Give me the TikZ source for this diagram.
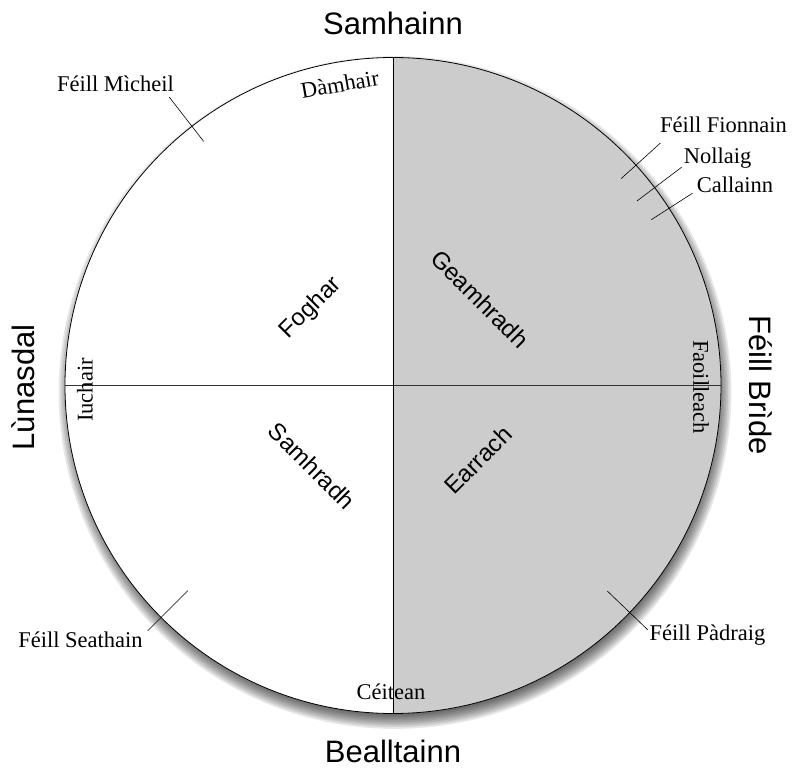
\documentclass[tikz,border=0pt]{standalone}
\usepackage{fontspec}
\setmainfont{Liberation Serif}
\setsansfont{Liberation Sans}
\usetikzlibrary{calc}
\definecolor{cDark}{RGB}{204,204,204}

\begin{document}
\begin{tikzpicture}[x=1pt, y=1pt,
            hd/.style={font=\sffamily\fontsize{31}{31}\selectfont, inner sep=0pt, anchor=base},
            ss/.style={font=\sffamily\fontsize{24}{24}\selectfont, inner sep=0pt},
            mo/.style={font=\fontsize{22.5}{22.5}\selectfont, inner sep=0pt},
            fe/.style={font=\fontsize{22.5}{22.5}\selectfont, inner sep=0pt, anchor=base},
            tk/.style={draw=black, line width=0.6pt},
            ax/.style={draw=black!80, line width=0.8pt}]
            \useasboundingbox (-393,-386.5) rectangle (411,385.5);
            % shadow
            \foreach \k in {0,...,12}
                \fill[black, opacity=0.09] (2,-7) circle ({316+\k*1.7});
            \fill[white] (0,0) circle (328);
            \fill[cDark] (0,328) arc (90:-90:328) -- cycle;
            \draw[ax] (-328,0) -- (328,0);
            \draw[ax, draw=black] (0,328) -- (0,-328);
            \draw[line width=0.8pt] (0,0) circle (328);
            % ticks
            \draw[tk] (127.8:309) -- (127.8:365);
            \draw[tk] (42.2:308)  -- (42.2:361);
            \draw[tk] (37.1:306)  -- (37.1:362);
            \draw[tk] (32.7:307)  -- (32.7:356);
            \draw[tk] (-43.8:297) -- (-43.8:353);
            \draw[tk] (-135:290)  -- (-135:347);
            % quarter days
            \node[hd]             (sam)  at (0,350.5)   {Samhainn};
            \node[hd]             (beal) at (0,-376.5)  {Bealltainn};
            \node[hd, rotate=90]  (lun)  at (-358,-2)   {Lùnasdal};
            \node[hd, rotate=-90] (bri)  at (356,0.5)   {Féill Brìde};
            % seasons
            \node[ss, rotate=45]  (fog)  at (-82,77.5)  {Foghar};
            \node[ss, rotate=-45] (gea)  at (87,86.5)   {Geamhradh};
            \node[ss, rotate=-45] (samr) at (-81,-80.5) {Samhradh};
            \node[ss, rotate=45]  (ear)  at (85,-74.5)  {Earrach};
            % months
            \node[mo, rotate=10]  (dam)  at (100:306)   {Dàmhair};
            \node[mo, rotate=90]  (iuc)  at (-308,-4.5) {Iuchair};
            \node[mo, rotate=-90] (fao)  at (308,-1.5)  {Faoilleach};
            \node[mo]             (cei)  at (-2,-306.5) {Céitean};
            % feasts
            \node[fe] (mic) at (-277.5,293.8) {Féill Mìcheil};
            \node[fe] (fio) at (330.5,253.5)  {Féill Fionnain};
            \node[fe] (nol) at (324.5,222.2)  {Nollaig};
            \node[fe] (cal) at (342,193.5)    {Callainn};
            \node[fe] (pad) at (314.5,-254.5) {Féill Pàdraig};
            \node[fe] (sea) at (-312.5,-261.5) {Féill Seathain};
        \end{tikzpicture}
\end{document}
